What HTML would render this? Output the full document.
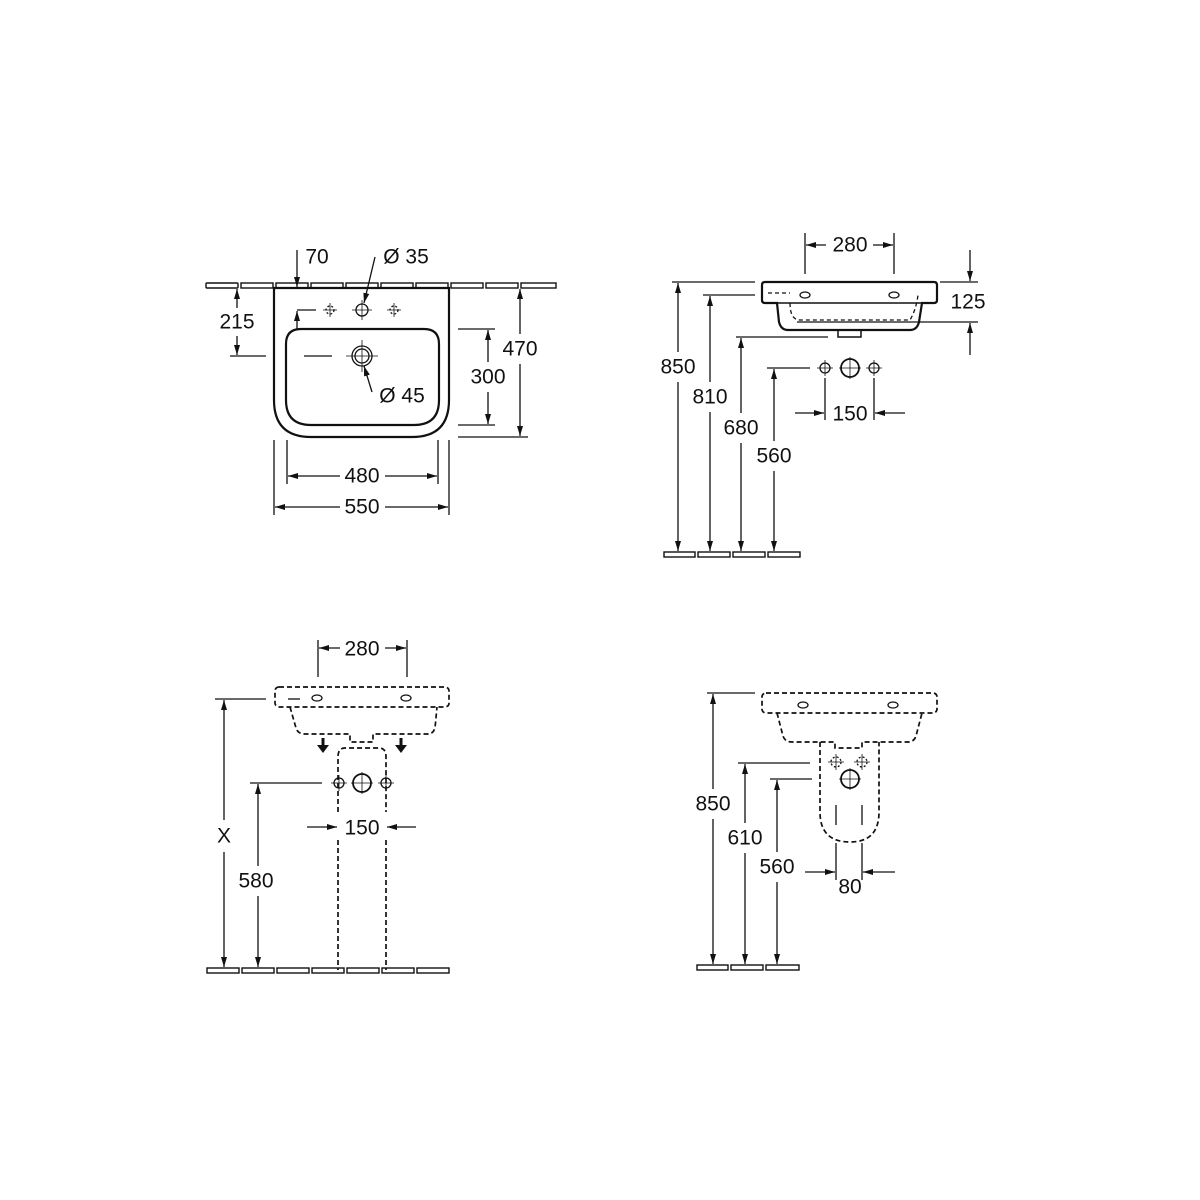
<!DOCTYPE html>
<html><head><meta charset="utf-8"><style>
html,body{margin:0;padding:0;background:#fff}
svg{display:block}
text{font-family:"Liberation Sans",Arial,sans-serif;font-size:21px;fill:#111;text-anchor:middle;dominant-baseline:central}
</style></head><body>
<svg width="1200" height="1200" viewBox="0 0 1200 1200" xmlns="http://www.w3.org/2000/svg">
<defs>
<marker id="a" markerWidth="10" markerHeight="8" refX="10" refY="4" orient="auto" markerUnits="userSpaceOnUse"><path d="M0,1 L10,4 L0,7 Z" fill="#111"/></marker>
</defs>
<g stroke="#111" stroke-width="1.3" fill="none">
<!-- ===== Q1 ===== -->
<g stroke-width="1.4">
<rect x="206" y="283" width="32" height="5" rx="1"/><rect x="241" y="283" width="32" height="5"/><rect x="276" y="283" width="32" height="5"/><rect x="311" y="283" width="32" height="5"/><rect x="346" y="283" width="32" height="5"/><rect x="381" y="283" width="32" height="5"/><rect x="416" y="283" width="32" height="5"/><rect x="451" y="283" width="32" height="5"/><rect x="486" y="283" width="32" height="5"/><rect x="521" y="283" width="35" height="5"/>
</g>
<path d="M274,288 V400 Q274,437 311,437 H412 Q449,437 449,400 V288 Z" stroke-width="2.2" fill="#fff"/>
<path d="M301,329 H424 Q439,329 439,344 V400 Q439,425 414,425 H311 Q286,425 286,400 V344 Q286,329 301,329 Z" stroke-width="2.2"/>
<circle cx="362" cy="356" r="7"/><circle cx="362" cy="356" r="10"/>
<path d="M346,356 H378 M362,340 V372" stroke-width="0.8"/>
<circle cx="362" cy="310" r="6"/><path d="M362,300 V320 M352,310 H372" stroke-width="0.8"/>
<circle cx="330" cy="310" r="4" stroke-dasharray="2 2"/><path d="M330,303 V317 M323,310 H337" stroke-width="0.8"/>
<circle cx="394" cy="310" r="4" stroke-dasharray="2 2"/><path d="M394,303 V317 M387,310 H401" stroke-width="0.8"/>
<path d="M297,310 H316"/><path d="M297,330 V311" marker-end="url(#a)"/>
<path d="M304,356 H332"/>
<path d="M297,250 V287" marker-end="url(#a)"/>
<path d="M375,257 L364,303" marker-end="url(#a)"/>
<path d="M372,392 L364,366" marker-end="url(#a)"/>
<path d="M230,356 H266"/>
<path d="M237,308 V289" marker-end="url(#a)"/><path d="M237,336 V355" marker-end="url(#a)"/>
<path d="M458,329 H495 M458,425 H495"/>
<path d="M488,362 V330" marker-end="url(#a)"/><path d="M488,392 V424" marker-end="url(#a)"/>
<path d="M458,437 H528"/>
<path d="M520,334 V289" marker-end="url(#a)"/><path d="M520,364 V436" marker-end="url(#a)"/>
<path d="M287,440 V484 M438,440 V484"/>
<path d="M340,476 H288" marker-end="url(#a)"/><path d="M385,476 H437" marker-end="url(#a)"/>
<path d="M274,440 V515 M449,440 V515"/>
<path d="M340,507 H275" marker-end="url(#a)"/><path d="M385,507 H448" marker-end="url(#a)"/>

<!-- ===== Q2 ===== -->
<path d="M805,233 V274 M894,233 V274"/>
<path d="M826,245 H806" marker-end="url(#a)"/><path d="M873,245 H893" marker-end="url(#a)"/>
<path d="M765,282 H934 Q937,282 937,285 V300 Q937,303 934,303 H922 L919,322 Q917,330 910,330 H788 Q781,330 779,322 L777,303 H765 Q762,303 762,300 V285 Q762,282 765,282 Z" stroke-width="2.2"/>
<path d="M777,303 H922" stroke-width="1.5"/>
<path d="M838,330 V337 H861 V330" stroke-width="1.5"/>
<path d="M768,293 H790 M790,303 Q790,320 800,320 H910 Q916,310 918,295" stroke-dasharray="4 3"/>
<ellipse cx="805" cy="295" rx="5" ry="3"/><ellipse cx="894" cy="295" rx="5" ry="3"/>
<path d="M940,282 H978 M797,322 H978"/>
<path d="M970,250 V281" marker-end="url(#a)"/><path d="M970,355 V323" marker-end="url(#a)"/>
<path d="M672,282 H755 M703,295 H755 M736,337 H828 M767,368 H810"/>
<path d="M678,352 V283" marker-end="url(#a)"/><path d="M678,382 V551" marker-end="url(#a)"/>
<path d="M710,382 V296" marker-end="url(#a)"/><path d="M710,412 V551" marker-end="url(#a)"/>
<path d="M741,413 V338" marker-end="url(#a)"/><path d="M741,443 V551" marker-end="url(#a)"/>
<path d="M774,441 V369" marker-end="url(#a)"/><path d="M774,471 V551" marker-end="url(#a)"/>
<circle cx="825" cy="368" r="5"/><path d="M825,360 V376 M817,368 H833" stroke-width="0.8"/>
<circle cx="850" cy="368" r="9" stroke-width="1.8"/><path d="M850,357 V379 M839,368 H861" stroke-width="0.8"/>
<circle cx="874" cy="368" r="5"/><path d="M874,360 V376 M866,368 H882" stroke-width="0.8"/>
<path d="M825,378 V420 M874,378 V420"/>
<path d="M795,413 H824" marker-end="url(#a)"/><path d="M905,413 H875" marker-end="url(#a)"/>
<g stroke-width="1.4"><rect x="664" y="552" width="31" height="5"/><rect x="698" y="552" width="32" height="5"/><rect x="733" y="552" width="32" height="5"/><rect x="768" y="552" width="32" height="5"/></g>

<!-- ===== Q3 ===== -->
<path d="M318,640 V677 M407,640 V677"/>
<path d="M340,648 H319" marker-end="url(#a)"/><path d="M385,648 H406" marker-end="url(#a)"/>
<g stroke-dasharray="5 3" stroke-width="1.7">
<rect x="275" y="687" width="174" height="20" rx="4"/>
<path d="M290,707 L296,728 Q298,734 305,734 H350 V742 H373 V734 H428 Q433,734 435,728 L437,707"/>
<path d="M338,812 V757 Q338,748 345,748 H379 Q386,748 386,757 V812"/>
<path d="M338,840 V970 M386,840 V970"/>
</g>
<ellipse cx="317" cy="698" rx="5" ry="3"/><ellipse cx="406" cy="698" rx="5" ry="3"/>
<path d="M288,699 H300"/>
<path d="M323,738 V746 M401,738 V746" stroke-width="3"/>
<path d="M317,745 L329,745 L323,753 Z M395,745 L407,745 L401,753 Z" fill="#111" stroke="none"/>
<circle cx="339" cy="783" r="5"/><path d="M339,775 V791 M331,783 H347" stroke-width="0.8"/>
<circle cx="362" cy="783" r="9" stroke-width="1.8"/><path d="M362,772 V794 M351,783 H373" stroke-width="0.8"/>
<circle cx="386" cy="783" r="5"/><path d="M386,775 V791 M378,783 H394" stroke-width="0.8"/>
<path d="M307,827 H337" marker-end="url(#a)"/><path d="M416,827 H387" marker-end="url(#a)"/>
<path d="M215,699 H266 M250,783 H322"/>
<path d="M224,820 V700" marker-end="url(#a)"/><path d="M224,852 V967" marker-end="url(#a)"/>
<path d="M258,866 V784" marker-end="url(#a)"/><path d="M258,896 V967" marker-end="url(#a)"/>
<g stroke-width="1.4"><rect x="207" y="968" width="32" height="5"/><rect x="242" y="968" width="32" height="5"/><rect x="277" y="968" width="32" height="5"/><rect x="312" y="968" width="32" height="5"/><rect x="347" y="968" width="32" height="5"/><rect x="382" y="968" width="32" height="5"/><rect x="417" y="968" width="32" height="5"/></g>

<!-- ===== Q4 ===== -->
<g stroke-dasharray="5 3" stroke-width="1.7">
<rect x="762" y="693" width="175" height="20" rx="4"/>
<path d="M777,713 L783,736 Q785,742 792,742 H835 V748 H862 V742 H908 Q914,742 916,736 L922,713"/>
<path d="M820,742 V812 Q820,842 850,842 Q879,842 879,812 V742"/>
</g>
<ellipse cx="803" cy="705" rx="5" ry="3"/><ellipse cx="893" cy="705" rx="5" ry="3"/>
<circle cx="836" cy="762" r="5" stroke-dasharray="2 2"/><path d="M836,754 V770 M828,762 H844" stroke-width="0.8"/>
<circle cx="862" cy="762" r="5" stroke-dasharray="2 2"/><path d="M862,754 V770 M854,762 H870" stroke-width="0.8"/>
<circle cx="850" cy="779" r="9" stroke-width="1.8"/><path d="M850,768 V790 M839,779 H861" stroke-width="0.8"/>
<path d="M836,805 V825 M862,805 V825 M836,843 V880 M862,843 V880"/>
<path d="M805,872 H835" marker-end="url(#a)"/><path d="M895,872 H863" marker-end="url(#a)"/>
<path d="M707,693 H755 M738,763 H810 M770,779 H812"/>
<path d="M713,789 V694" marker-end="url(#a)"/><path d="M713,819 V964" marker-end="url(#a)"/>
<path d="M745,823 V764" marker-end="url(#a)"/><path d="M745,853 V964" marker-end="url(#a)"/>
<path d="M777,852 V780" marker-end="url(#a)"/><path d="M777,882 V964" marker-end="url(#a)"/>
<g stroke-width="1.4"><rect x="697" y="965" width="31" height="5"/><rect x="731" y="965" width="32" height="5"/><rect x="766" y="965" width="33" height="5"/></g>
</g>

<text x="317" y="257">70</text>
<text x="406" y="257">Ø 35</text>
<text x="237" y="322">215</text>
<text x="402" y="396">Ø 45</text>
<text x="488" y="377">300</text>
<text x="520" y="349">470</text>
<text x="362" y="476">480</text>
<text x="362" y="507">550</text>

<text x="850" y="245">280</text>
<text x="968" y="302">125</text>
<text x="678" y="367">850</text>
<text x="710" y="397">810</text>
<text x="741" y="428">680</text>
<text x="774" y="456">560</text>
<text x="850" y="414">150</text>

<text x="362" y="649">280</text>
<text x="362" y="828">150</text>
<text x="224" y="836">X</text>
<text x="256" y="881">580</text>

<text x="713" y="804">850</text>
<text x="745" y="838">610</text>
<text x="777" y="867">560</text>
<text x="850" y="887">80</text>
</svg>
</body></html>
